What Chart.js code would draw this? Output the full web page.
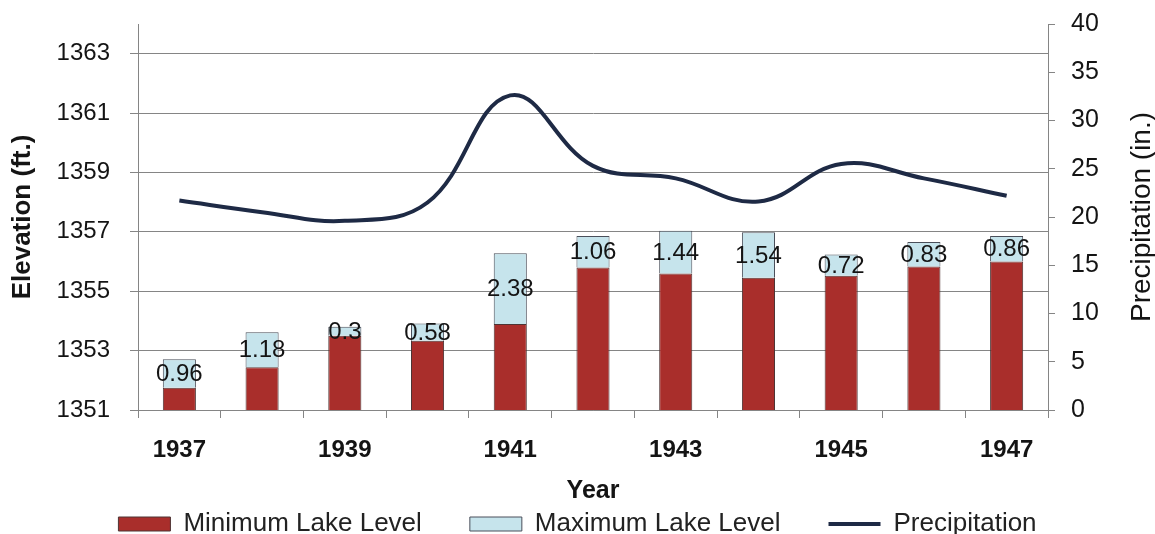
<!DOCTYPE html>
<html>
<head>
<meta charset="utf-8">
<script src="https://cdn.jsdelivr.net/npm/chart.js@4.4.1/dist/chart.umd.min.js"></script>
<style>
  html, body { margin: 0; padding: 0; background: #ffffff; }
  canvas { display: block; }
</style>
</head>
<body>
<canvas id="lakeChart" width="1155" height="534"></canvas>
<script>
// Lake levels and yearly precipitation, 1937-1947
const years = ['1937', '1938', '1939', '1940', '1941', '1942', '1943', '1944', '1945', '1946', '1947'];
// Lowest lake elevation reached each year (ft.)
const minLevel = [1351.75, 1352.44, 1353.50, 1353.33, 1353.90, 1355.80, 1355.60, 1355.45, 1355.52, 1355.83, 1356.00];
// Rise from the minimum to the maximum elevation of the year (ft.)
const levelRange = [0.96, 1.18, 0.3, 0.58, 2.38, 1.06, 1.44, 1.54, 0.72, 0.83, 0.86];
// Annual precipitation (in.)
const precipitation = [21.7, 20.5, 19.6, 21.5, 32.6, 25.3, 24.0, 21.6, 25.5, 24.0, 22.2];

const elevationTicks = [1351, 1353, 1355, 1357, 1359, 1361, 1363];
const precipTicks = [0, 5, 10, 15, 20, 25, 30, 35, 40];

const FONT = '"Liberation Sans", Arial, Helvetica, sans-serif';
const GRID = '#858585';
const TEXT = '#141414';

// Writes the range value in the middle of each upper (maximum) segment
const rangeLabels = {
  id: 'rangeLabels',
  afterDatasetsDraw(chart) {
    const meta = chart.getDatasetMeta(1);
    const ctx = chart.ctx;
    ctx.save();
    ctx.font = '24px ' + FONT;
    ctx.fillStyle = TEXT;
    ctx.textAlign = 'center';
    ctx.textBaseline = 'middle';
    meta.data.forEach((bar, i) => {
      ctx.fillText(String(levelRange[i]), bar.x, (bar.y + bar.base) / 2 + 1);
    });
    ctx.restore();
  }
};

// Title of the right-hand axis, read from bottom to top
const rightAxisTitle = {
  id: 'rightAxisTitle',
  afterDraw(chart, args, opts) {
    const s = chart.scales.y1;
    const area = chart.chartArea;
    const ctx = chart.ctx;
    ctx.save();
    ctx.translate(s.right - opts.inset, (area.top + area.bottom) / 2);
    ctx.rotate(-Math.PI / 2);
    ctx.font = opts.size + 'px ' + FONT;
    ctx.fillStyle = TEXT;
    ctx.textAlign = 'center';
    ctx.textBaseline = 'middle';
    ctx.fillText(opts.text, 0, 0);
    ctx.restore();
  }
};

// Vertical axes keep only half a label of room above and below the plot
function fitVertical(width) {
  return (scale) => {
    scale.width = width;
    scale.paddingTop = 14;
    scale.paddingBottom = 14;
  };
}

new Chart(document.getElementById('lakeChart'), {
  data: {
    labels: years,
    datasets: [
      {
        type: 'bar',
        label: 'Minimum Lake Level',
        data: minLevel,
        yAxisID: 'y',
        backgroundColor: '#a92e2b',
        borderColor: '#4e3434',
        borderWidth: 1,
        barPercentage: 0.4,
        categoryPercentage: 1.0,
        order: 1
      },
      {
        type: 'bar',
        label: 'Maximum Lake Level',
        data: levelRange,
        yAxisID: 'y',
        backgroundColor: '#c6e4ec',
        borderColor: '#4a4f5a',
        borderWidth: 1,
        barPercentage: 0.4,
        categoryPercentage: 1.0,
        order: 2
      },
      {
        type: 'line',
        label: 'Precipitation',
        data: precipitation,
        yAxisID: 'y1',
        borderColor: '#1e2a45',
        backgroundColor: '#1e2a45',
        borderWidth: 4,
        pointRadius: 0,
        tension: 0.4,
        order: 0
      }
    ]
  },
  options: {
    responsive: false,
    animation: false,
    devicePixelRatio: 1,
    layout: { padding: { top: 24, left: 0, right: 0, bottom: -13 } },
    plugins: {
      tooltip: { enabled: false },
      legend: {
        position: 'bottom',
        labels: {
          usePointStyle: true,
          pointStyleWidth: 52,
          boxHeight: 14,
          padding: 48,
          color: '#222222',
          font: { family: FONT, size: 26 },
          sort: (a, b) => a.datasetIndex - b.datasetIndex,
          generateLabels(chart) {
            const items = Chart.defaults.plugins.legend.labels.generateLabels(chart);
            items.forEach(it => {
              it.pointStyle = chart.data.datasets[it.datasetIndex].type === 'line' ? 'line' : 'rect';
            });
            return items;
          }
        }
      },
      rightAxisTitle: { text: 'Precipitation (in.)', size: 28, inset: 13 }
    },
    scales: {
      x: {
        stacked: true,
        offset: true,
        afterFit(scale) { scale.height = 53; },
        grid: {
          offset: true,
          drawOnChartArea: false,
          drawTicks: true,
          tickLength: 8,
          color: GRID
        },
        border: { color: GRID, width: 1 },
        ticks: {
          autoSkip: false,
          maxRotation: 0,
          padding: 18,
          color: TEXT,
          font: { family: FONT, size: 24, weight: 'bold' },
          callback(value, index) { return index % 2 === 0 ? years[index] : ''; }
        },
        title: {
          display: true,
          text: 'Year',
          color: TEXT,
          font: { family: FONT, size: 25, weight: 'bold' },
          padding: { top: 0, bottom: -43 }
        }
      },
      y: {
        stacked: true,
        position: 'left',
        min: 1351,
        max: 1364,
        afterBuildTicks(scale) { scale.ticks = elevationTicks.map(v => ({ value: v })); },
        afterFit: fitVertical(138),
        grid: { color: GRID, lineWidth: 1, tickLength: 8 },
        border: { color: GRID, width: 1 },
        ticks: {
          padding: 20,
          color: TEXT,
          font: { family: FONT, size: 24 },
          callback: (value) => String(value)
        },
        title: {
          display: true,
          text: 'Elevation (ft.)',
          color: TEXT,
          font: { family: FONT, size: 26, weight: 'bold' },
          padding: { top: 7, bottom: 0 }
        }
      },
      y1: {
        position: 'right',
        min: 0,
        max: 40,
        afterBuildTicks(scale) { scale.ticks = precipTicks.map(v => ({ value: v })); },
        afterFit: fitVertical(107),
        grid: { drawOnChartArea: false, color: GRID, tickLength: 7 },
        border: { color: GRID, width: 1 },
        ticks: {
          padding: 16,
          color: TEXT,
          font: { family: FONT, size: 25 },
          callback: (value) => String(value)
        }
      }
    }
  },
  plugins: [rangeLabels, rightAxisTitle]
});
</script>
</body>
</html>
